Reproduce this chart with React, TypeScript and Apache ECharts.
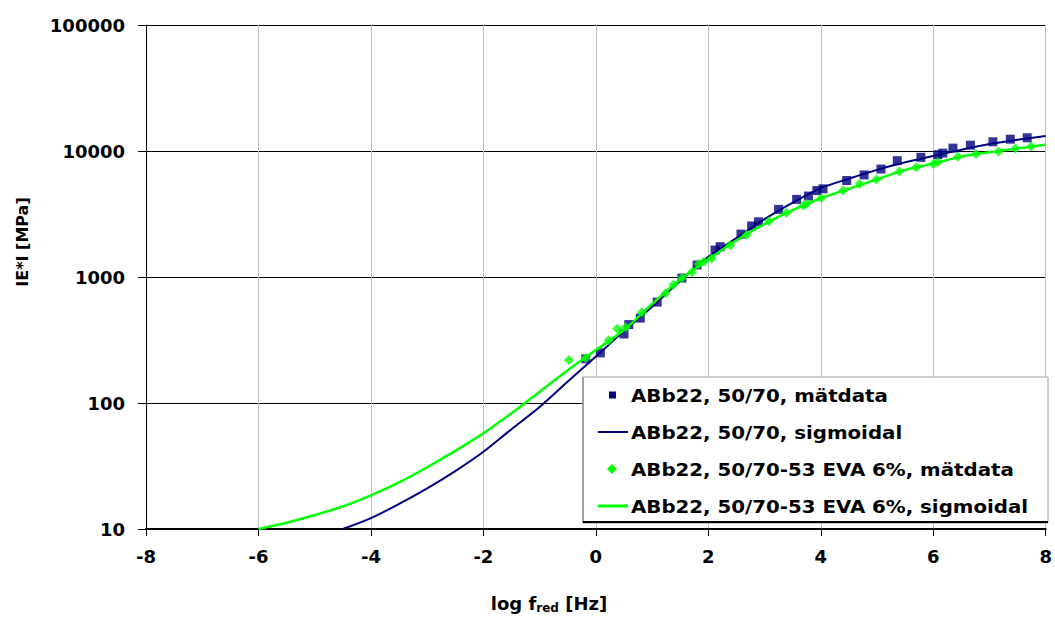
import React, { useEffect, useRef } from "react";
import * as echarts from "echarts";

const xCurve = [-6, -5.5, -5, -4.5, -4, -3.5, -3, -2.5, -2, -1.5, -1, -0.5, 0, 0.5, 1, 1.5, 2, 2.5, 3, 3.5, 4, 4.5, 5, 5.5, 6, 6.5, 7, 7.5, 8];
// blue sigmoid starts at x = -4.5 (null before)
const blueSigmoid = [null, null, null, 10, 12.2, 15.8, 21, 28.8, 41, 62, 93, 148, 234, 372, 580, 933, 1445, 2040, 2880, 3890, 5070, 6030, 7080, 8130, 9120, 10230, 11350, 12300, 13180];
const greenSigmoid = [10, 11.2, 12.9, 15.1, 18.5, 23.4, 30.9, 41.7, 57.5, 83, 123, 182, 263, 380, 610, 955, 1380, 1950, 2630, 3390, 4220, 5010, 5960, 7080, 7940, 9020, 9770, 10470, 11220];

const blueX = [-0.18, 0.08, 0.5, 0.585, 0.79, 1.09, 1.53, 1.8, 2.12, 2.21, 2.58, 2.77, 2.89, 3.25, 3.57, 3.78, 3.93, 4.04, 4.46, 4.77, 5.07, 5.36, 5.78, 6.08, 6.17, 6.35, 6.66, 7.06, 7.37, 7.67];
const blueY = [224, 250, 353, 419, 472, 632, 980, 1245, 1636, 1740, 2190, 2540, 2740, 3440, 4130, 4390, 4850, 5010, 5830, 6460, 7190, 8380, 8910, 9340, 9620, 10540, 11130, 11830, 12410, 12730];

const greenX = [-0.48, -0.18, 0.23, 0.38, 0.53, 0.82, 1.24, 1.38, 1.53, 1.71, 1.83, 1.92, 2.06, 2.39, 2.68, 3.08, 3.39, 3.69, 3.75, 4.01, 4.4, 4.69, 4.99, 5.4, 5.7, 6.0, 6.08, 6.44, 6.76, 7.16, 7.46, 7.74];
const greenY = [219, 228, 315, 389, 399, 525, 743, 867, 980, 1090, 1270, 1320, 1400, 1790, 2150, 2770, 3240, 3700, 3800, 4230, 4850, 5480, 5940, 6870, 7430, 7890, 8130, 9020, 9460, 9930, 10470, 10860];

const seriesNames = [
  "ABb22, 50/70, mätdata",
  "ABb22, 50/70, sigmoidal",
  "ABb22, 50/70-53 EVA 6%, mätdata",
  "ABb22, 50/70-53 EVA 6%, sigmoidal",
];

const BLUE = "#000080";
const GREEN = "#00ff00";
const FONT = "DejaVu Sans";

export default function App() {
  const ref = useRef<HTMLDivElement>(null);
  useEffect(() => {
    if (!ref.current) return;
    const chart = echarts.init(ref.current, null, { renderer: "svg" });
    const zip = (xs: number[], ys: (number | null)[]) =>
      xs.map((x, i) => (ys[i] == null ? null : [x, ys[i]])).filter((p) => p !== null);

    const labelStyle = { fontFamily: FONT, fontWeight: "bold", fontSize: 18, color: "#000" };
    const legendTop = 395;
    const gap = 37;
    const textX = 631;
    const legendText = (i: number) => ({
      type: "text",
      z: 101,
      x: textX,
      y: legendTop + gap * i,
      scaleX: 1.1,
      style: {
        text: seriesNames[i],
        fontFamily: FONT,
        fontWeight: "bold",
        fontSize: 18,
        fill: "#000",
        align: "left",
        verticalAlign: "middle",
      },
    });
    const dy = legendTop + gap * 2;

    chart.setOption({
      animation: false,
      backgroundColor: "#fff",
      grid: { left: 146, right: 7, top: 25, bottom: 90 },
      xAxis: {
        type: "value",
        min: -8,
        max: 8,
        interval: 2,
        axisLine: { show: true, onZero: false, lineStyle: { color: "#000", width: 2 } },
        axisTick: { show: true, length: 7, lineStyle: { color: "#000", width: 1 } },
        axisLabel: { ...labelStyle, margin: 18 },
        splitLine: { show: true, lineStyle: { color: "#c0c0c0", width: 1 } },
      },
      yAxis: {
        type: "log",
        logBase: 10,
        min: 10,
        max: 100000,
        axisLine: { show: true, onZero: false, lineStyle: { color: "#000", width: 1 } },
        axisTick: { show: true, length: 8, lineStyle: { color: "#000", width: 1 } },
        axisLabel: { ...labelStyle, margin: 21, formatter: (v: number) => String(Math.round(v)) },
        splitLine: { show: true, lineStyle: { color: "#000", width: 1 } },
        minorTick: { show: false },
      },
      series: [
        {
          name: seriesNames[0],
          type: "scatter",
          data: zip(blueX, blueY),
          symbol: "rect",
          symbolSize: 9,
          itemStyle: { color: BLUE },
          z: 3,
        },
        {
          name: seriesNames[1],
          type: "line",
          data: zip(xCurve, blueSigmoid),
          showSymbol: false,
          smooth: 0.3,
          lineStyle: { color: BLUE, width: 2 },
          z: 3,
        },
        {
          name: seriesNames[2],
          type: "scatter",
          data: zip(greenX, greenY),
          symbol: "diamond",
          symbolSize: 10,
          itemStyle: { color: GREEN },
          z: 4,
        },
        {
          name: seriesNames[3],
          type: "line",
          data: zip(xCurve, greenSigmoid),
          showSymbol: false,
          smooth: 0.3,
          lineStyle: { color: GREEN, width: 2.5 },
          z: 4,
        },
      ],
      graphic: [
        {
          type: "rect",
          z: 100,
          shape: { x: 583, y: 377, width: 465, height: 146 },
          style: { fill: "#fff", stroke: "#a0a0a0", lineWidth: 1 },
        },
        {
          type: "line",
          z: 100,
          shape: { x1: 583, y1: 377, x2: 583, y2: 523 },
          style: { stroke: "#a0a0a0", lineWidth: 2 },
        },
        {
          type: "line",
          z: 100,
          shape: { x1: 583, y1: 522, x2: 1048, y2: 522 },
          style: { stroke: "#000", lineWidth: 2 },
        },
        {
          type: "rect",
          z: 101,
          shape: { x: 609, y: legendTop - 3.5, width: 7, height: 7 },
          style: { fill: BLUE },
        },
        {
          type: "line",
          z: 101,
          shape: { x1: 598, y1: legendTop + gap, x2: 628, y2: legendTop + gap },
          style: { stroke: BLUE, lineWidth: 2 },
        },
        {
          type: "polygon",
          z: 101,
          shape: { points: [[612, dy - 5], [617, dy], [612, dy + 5], [607, dy]] },
          style: { fill: GREEN },
        },
        {
          type: "line",
          z: 101,
          shape: { x1: 598, y1: legendTop + gap * 3, x2: 628, y2: legendTop + gap * 3 },
          style: { stroke: GREEN, lineWidth: 3 },
        },
        legendText(0),
        legendText(1),
        legendText(2),
        legendText(3),
        {
          type: "text",
          x: 22,
          y: 242,
          rotation: Math.PI / 2,
          style: {
            text: "IE*I [MPa]",
            fontFamily: FONT,
            fontWeight: "bold",
            fontSize: 16,
            fill: "#000",
            align: "center",
            verticalAlign: "middle",
          },
        },
        {
          type: "text",
          x: 549,
          y: 603,
          style: {
            text: "{a|log f}{b|red}{a| [Hz]}",
            align: "center",
            verticalAlign: "middle",
            rich: {
              a: { fontFamily: FONT, fontWeight: "bold", fontSize: 18, fill: "#000", color: "#000" },
              b: { fontFamily: FONT, fontWeight: "bold", fontSize: 12, fill: "#000", color: "#000", padding: [10, 0, 0, 0] },
            },
          },
        },
      ],
    });
    return () => chart.dispose();
  }, []);
  return <div ref={ref} style={{ position: "fixed", left: 0, top: 0, width: 1055, height: 619 }} />;
}
